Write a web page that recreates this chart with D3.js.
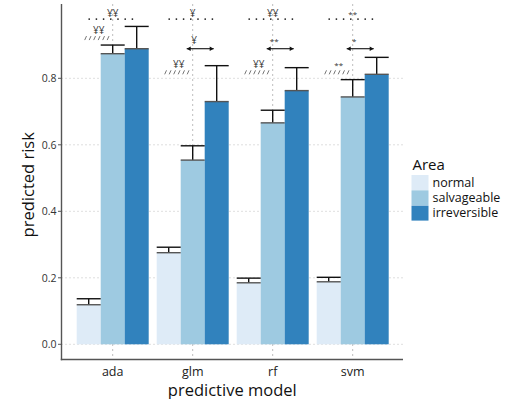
<!DOCTYPE html>
<html><head><meta charset="utf-8">
<script src="https://cdn.jsdelivr.net/npm/d3@7"></script>
<style>body{margin:0;background:#fff}svg{display:block}text{font-family:"Open Sans",sans-serif}</style>
</head><body><svg id="c" width="517" height="399"></svg>
<script>
const models = ["ada","glm","rf","svm"];
const areas = ["normal","salvageable","irreversible"];
const means = {
  normal:       [0.119, 0.2755, 0.185, 0.188],
  salvageable:  [0.874, 0.554, 0.666, 0.744],
  irreversible: [0.889, 0.730, 0.763, 0.812]
};
const upper = {
  normal:       [0.137, 0.292, 0.199, 0.2015],
  salvageable:  [0.900, 0.597, 0.704, 0.796],
  irreversible: [0.956, 0.838, 0.832, 0.863]
};
const yTicks = [0, 0.2, 0.4, 0.6, 0.8];
const colors = ["#deebf7","#9ecae1","#3182bd"];
// significance annotations
const sigTop   = ["¥¥","¥","¥¥","**"];     // normal vs irreversible
const sigSlash = ["¥¥","¥¥","¥¥","**"];    // normal vs salvageable
const slashY   = [0.921, 0.818, 0.818, 0.818];
const sigArrow = [null,"¥","**","*"];      // salvageable vs irreversible
const topY = 0.978, arrowY = 0.889;

const svg = d3.select("#c");
const y = d3.scaleLinear().domain([0,1]).range([344.3, 11.8]);
const x = d3.scaleBand().domain(models).range([64.7, 400.7]).paddingInner(0.1).paddingOuter(0.15);
const xs = d3.scaleBand().domain(areas).range([0, x.bandwidth()]);
const color = d3.scaleOrdinal().domain(areas).range(colors);
const panelTop = 4, panelBottom = 359.5, panelLeft = 61.5, panelRight = 403;

// grid
svg.append("g").selectAll("line").data(yTicks).join("line")
  .attr("x1", panelLeft).attr("x2", panelRight)
  .attr("y1", d=>y(d)).attr("y2", d=>y(d))
  .attr("stroke","#bdbdbd").attr("stroke-width",1).attr("stroke-dasharray","1,3");
svg.append("g").selectAll("line").data(models).join("line")
  .attr("x1", d=>x(d)+x.bandwidth()/2).attr("x2", d=>x(d)+x.bandwidth()/2)
  .attr("y1", panelTop).attr("y2", panelBottom)
  .attr("stroke","#bdbdbd").attr("stroke-width",1).attr("stroke-dasharray","2,3");

// bars
const rows = [];
areas.forEach(a => models.forEach((m,i) => rows.push({m, a, v: means[a][i], u: upper[a][i]})));
svg.append("g").selectAll("rect").data(rows).join("rect")
  .attr("x", d=>x(d.m)+xs(d.a)).attr("width", xs.bandwidth())
  .attr("y", d=>y(d.v)).attr("height", d=>y(0)-y(d.v))
  .attr("fill", d=>color(d.a));
// error bars
const eb = svg.append("g");
eb.selectAll(".v").data(rows).join("line")
  .attr("x1", d=>x(d.m)+xs(d.a)+xs.bandwidth()/2).attr("x2", d=>x(d.m)+xs(d.a)+xs.bandwidth()/2)
  .attr("y1", d=>y(d.v)).attr("y2", d=>y(d.u)).attr("stroke","#111").attr("stroke-width",1.4);
eb.selectAll(".t").data(rows).join("line")
  .attr("x1", d=>x(d.m)+xs(d.a)).attr("x2", d=>x(d.m)+xs(d.a)+xs.bandwidth())
  .attr("y1", d=>y(d.u)).attr("y2", d=>y(d.u)).attr("stroke","#111").attr("stroke-width",1.4);
eb.selectAll(".b").data(rows).join("line")
  .attr("x1", d=>x(d.m)+xs(d.a)).attr("x2", d=>x(d.m)+xs(d.a)+xs.bandwidth())
  .attr("y1", d=>y(d.v)).attr("y2", d=>y(d.v)).attr("stroke","#555").attr("stroke-width",1.4);

// annotations
const cx = (m,a) => x(m)+xs(a)+xs.bandwidth()/2;
const ann = svg.append("g");
models.forEach((m,i) => {
  const gc = x(m)+x.bandwidth()/2;
  // dotted top
  ann.append("line").attr("x1", cx(m,"normal")+0.5).attr("x2", cx(m,"irreversible")-2)
    .attr("y1", y(topY)).attr("y2", y(topY))
    .attr("stroke","#222").attr("stroke-width",1.8).attr("stroke-linecap","round").attr("stroke-dasharray","0,7.2");
  ann.append("text").attr("x", gc).attr("y", y(topY)-2.5).attr("text-anchor","middle")
    .attr("font-size", sigTop[i]==="**"?8:10).attr("fill","#333").text(sigTop[i]);
  // slash line
  const x0 = cx(m,"normal")-4, yy = y(slashY[i]);
  for (let k=0;k<6;k++){
    ann.append("line").attr("x1", x0+k*4.5).attr("x2", x0+k*4.5+1.8)
      .attr("y1", yy+2).attr("y2", yy-2).attr("stroke","#666").attr("stroke-width",0.9);
  }
  ann.append("text").attr("x", gc-14).attr("y", yy-4).attr("text-anchor","middle")
    .attr("font-size", sigSlash[i]==="**"?8:10).attr("fill","#333").text(sigSlash[i]);
  // arrow
  if (sigArrow[i]) {
    const ax1 = cx(m,"salvageable")-6, ax2 = cx(m,"irreversible")-3, ay = y(arrowY);
    ann.append("line").attr("x1", ax1).attr("x2", ax2).attr("y1", ay).attr("y2", ay)
      .attr("stroke","#111").attr("stroke-width",1.1);
    ann.append("path").attr("d", `M${ax1},${ay}l4,-2.2v4.4z M${ax2},${ay}l-4,-2.2v4.4z`).attr("fill","#111");
    ann.append("text").attr("x", (ax1+ax2)/2-6).attr("y", ay-5).attr("text-anchor","middle")
      .attr("font-size", sigArrow[i]==="¥"?10:8).attr("fill","#333").text(sigArrow[i]);
  }
});

// axes
svg.append("line").attr("x1", panelLeft).attr("x2", panelLeft).attr("y1", panelTop).attr("y2", panelBottom+0.7)
  .attr("stroke","#555").attr("stroke-width",1.4);
svg.append("line").attr("x1", panelLeft-0.7).attr("x2", panelRight).attr("y1", panelBottom).attr("y2", panelBottom)
  .attr("stroke","#555").attr("stroke-width",1.4);
const ya = svg.append("g");
ya.selectAll("line").data(yTicks).join("line").attr("x1", panelLeft-3.5).attr("x2", panelLeft)
  .attr("y1", d=>y(d)).attr("y2", d=>y(d)).attr("stroke","#555").attr("stroke-width",1);
ya.selectAll("text").data(yTicks).join("text").attr("x", panelLeft-5).attr("y", d=>y(d)+3.8)
  .attr("text-anchor","end").attr("font-size",10.5).attr("fill","#333").text(d3.format(".1f"));
svg.append("g").selectAll("text").data(models).join("text")
  .attr("x", d=>x(d)+x.bandwidth()/2).attr("y", 375.5).attr("text-anchor","middle")
  .attr("font-size",12.5).attr("fill","#222").text(d=>d);
svg.append("text").attr("x", (panelLeft+panelRight)/2).attr("y", 395.5).attr("text-anchor","middle")
  .attr("font-size",16.5).attr("fill","#111").text("predictive model");
svg.append("text").attr("transform", `translate(33.5,${(panelTop+panelBottom)/2+3}) rotate(-90)`)
  .attr("text-anchor","middle").attr("font-size",16.5).attr("fill","#111").text("predicted risk");

// legend
const lg = svg.append("g").attr("transform","translate(411.5,160)");
lg.append("text").attr("x",1).attr("y",10).attr("font-size",15).attr("fill","#111").text("Area");
lg.selectAll("rect").data(areas).join("rect").attr("x",0).attr("y",(d,i)=>15+i*15.3)
  .attr("width",17).attr("height",15).attr("fill",d=>color(d));
lg.selectAll(".l").data(areas).join("text").attr("x",21).attr("y",(d,i)=>26.8+i*15.3)
  .attr("font-size",12.5).attr("fill","#111").text(d=>d);
</script></body></html>
